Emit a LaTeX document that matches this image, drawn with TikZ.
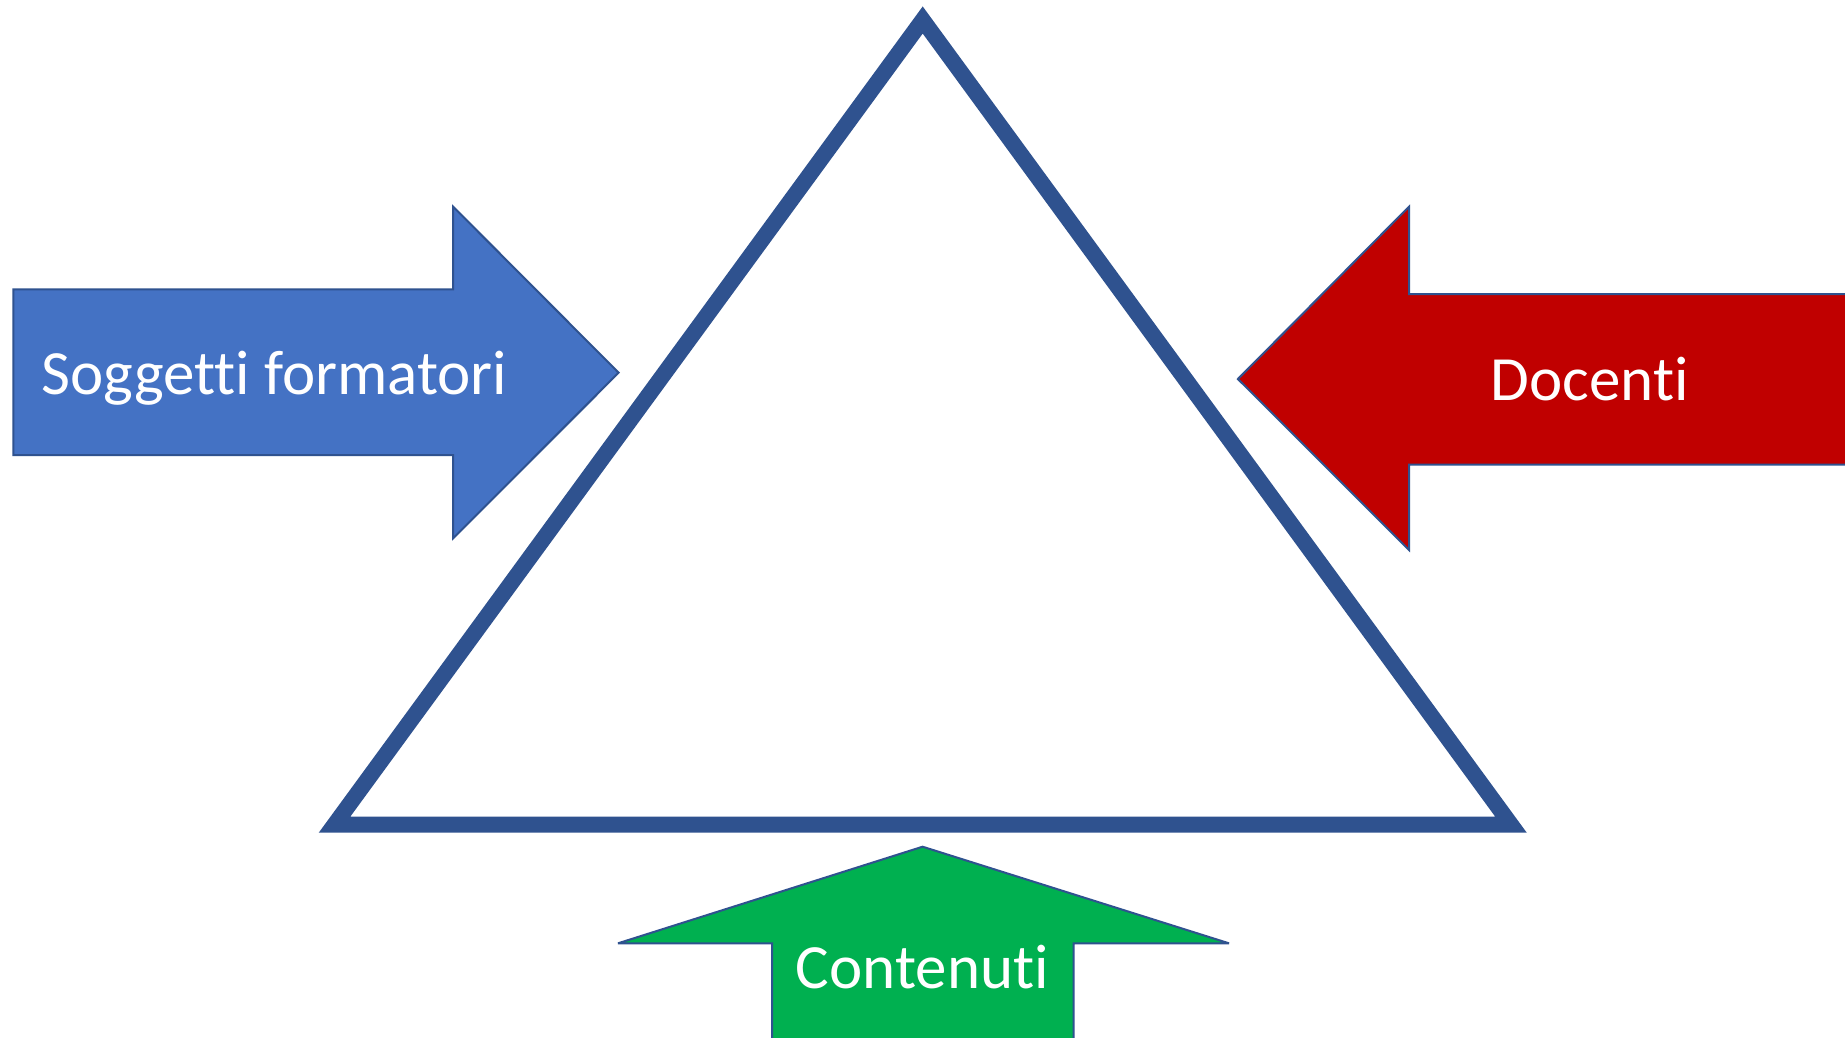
\documentclass[tikz,border=0pt]{standalone}
\usepackage{fontspec}
\setmainfont{Carlito}[Ligatures={NoCommon}]
\definecolor{triblue}{HTML}{2F528F}
\definecolor{arrblue}{HTML}{4472C4}
\definecolor{arrred}{HTML}{C00000}
\definecolor{arrgreen}{HTML}{00B050}
\tikzset{
  arrowshape/.style={draw=triblue, line width=2pt, line join=miter, miter limit=3},
  label/.style={text=white, inner sep=0pt, anchor=base, font=\fontsize{63}{75}\selectfont}
}
\begin{document}
\begin{tikzpicture}[x=1pt, y=-1pt]
\clip (0,0) rectangle (1845,1038);
\fill[white] (0,0) rectangle (1845,1038);
% triangle
\draw[triblue, line width=16pt, line join=miter] (922.7,20) -- (1511,824.7) -- (334.5,824.7) -- cycle;
% left arrow
\draw[arrowshape, fill=arrblue] (13.3,289.3) -- (453.2,289.3) -- (453.2,206.7) -- (618.6,372.7) -- (453.2,538.3) -- (453.2,455) -- (13.3,455) -- cycle;
\node[label] (sogg) at (274.5,394) {Soggetti formatori};
% right arrow
\draw[arrowshape, fill=arrred] (1900,294) -- (1409,294) -- (1409,206.7) -- (1237.9,379) -- (1409,550) -- (1409,464.5) -- (1900,464.5);
\node[label] (doc) at (1590,400) {Docenti};
% bottom arrow
\draw[arrowshape, fill=arrgreen] (772,1080) -- (772,943.3) -- (618,943.3) -- (922.6,846.7) -- (1229,943.3) -- (1073.5,943.3) -- (1073.5,1080);
\node[label] (cont) at (922.4,988.3) {Contenuti};
\end{tikzpicture}
\end{document}
